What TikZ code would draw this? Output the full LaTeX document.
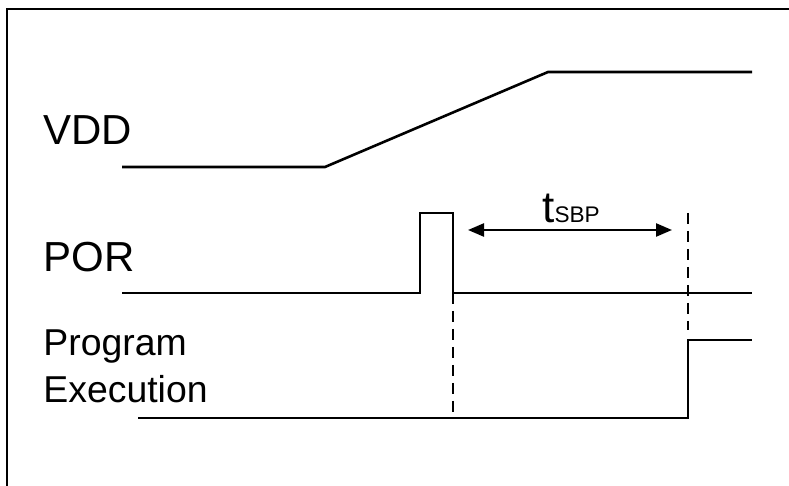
\documentclass[tikz,border=0pt]{standalone}
\usepackage{fontspec}
\setmainfont{Liberation Sans}
\usetikzlibrary{arrows.meta,positioning}

\tikzset{
  signal/.style={line width=1.3pt, line join=miter},
  marker/.style={line width=1.1pt, dash pattern=on 5.5pt off 3.5pt},
  label/.style={inner sep=0pt, anchor=base west, font=\fontsize{21}{24}\selectfont},
}

\begin{document}
\begin{tikzpicture}[x=0.5pt, y=-0.5pt]

    \useasboundingbox (0,0) rectangle (789,486);

    % Frame (only top and left edges are in view)
    \draw[line width=1.4pt] (7,486) -- (7,9) -- (789,9);

    % Signal names
    \node (vdd) [label] at (43,145) {VDD};
    \node (por) [label] at (43,272) {POR};
    \node (prog) [label, font=\fontsize{18.7}{23.5}\selectfont, align=left] at (43,403) {Program\\Execution};

    % VDD waveform
    \coordinate (v0) at (122,167);
    \coordinate (v1) at (325,167);
    \coordinate (v2) at (548,72);
    \coordinate (v3) at (752,72);
    \draw[signal] (v0) -- (v1) -- (v2) -- (v3);

    % POR waveform
    \coordinate (p0) at (122,293);
    \coordinate (p1) at (420,293);
    \coordinate (p2) at (420,213);
    \coordinate (p3) at (453,213);
    \coordinate (p4) at (453,293);
    \coordinate (p5) at (752,293);
    \draw[signal] (p0) -- (p1) -- (p2) -- (p3) -- (p4) -- (p5);

    % Program execution waveform
    \coordinate (e0) at (138,418);
    \coordinate (e1) at (688,418);
    \coordinate (e2) at (688,340);
    \coordinate (e3) at (752,340);
    \draw[signal] (e0) -- (e1) -- (e2) -- (e3);

    % Dashed markers
    \coordinate (m1) at (453,415);
    \coordinate (m2top) at (688,213);
    \coordinate (m2) at (688,330);
    \draw[marker] (p4) -- (m1);
    \draw[marker] (m2top) -- (m2);

    % t_SBP interval
    \coordinate (a0) at (468,230);
    \coordinate (a1) at (672,230);
    \draw[line width=1.2pt, {Triangle[length=8pt,width=6.5pt]}-{Triangle[length=8pt,width=6.5pt]}] (a0) -- (a1);
    \node (tsbp) [inner sep=0pt, anchor=base, font=\fontsize{22}{24}\selectfont] at (571,223) {t{\fontsize{11.3}{12}\selectfont SBP}};

\end{tikzpicture}
\end{document}
